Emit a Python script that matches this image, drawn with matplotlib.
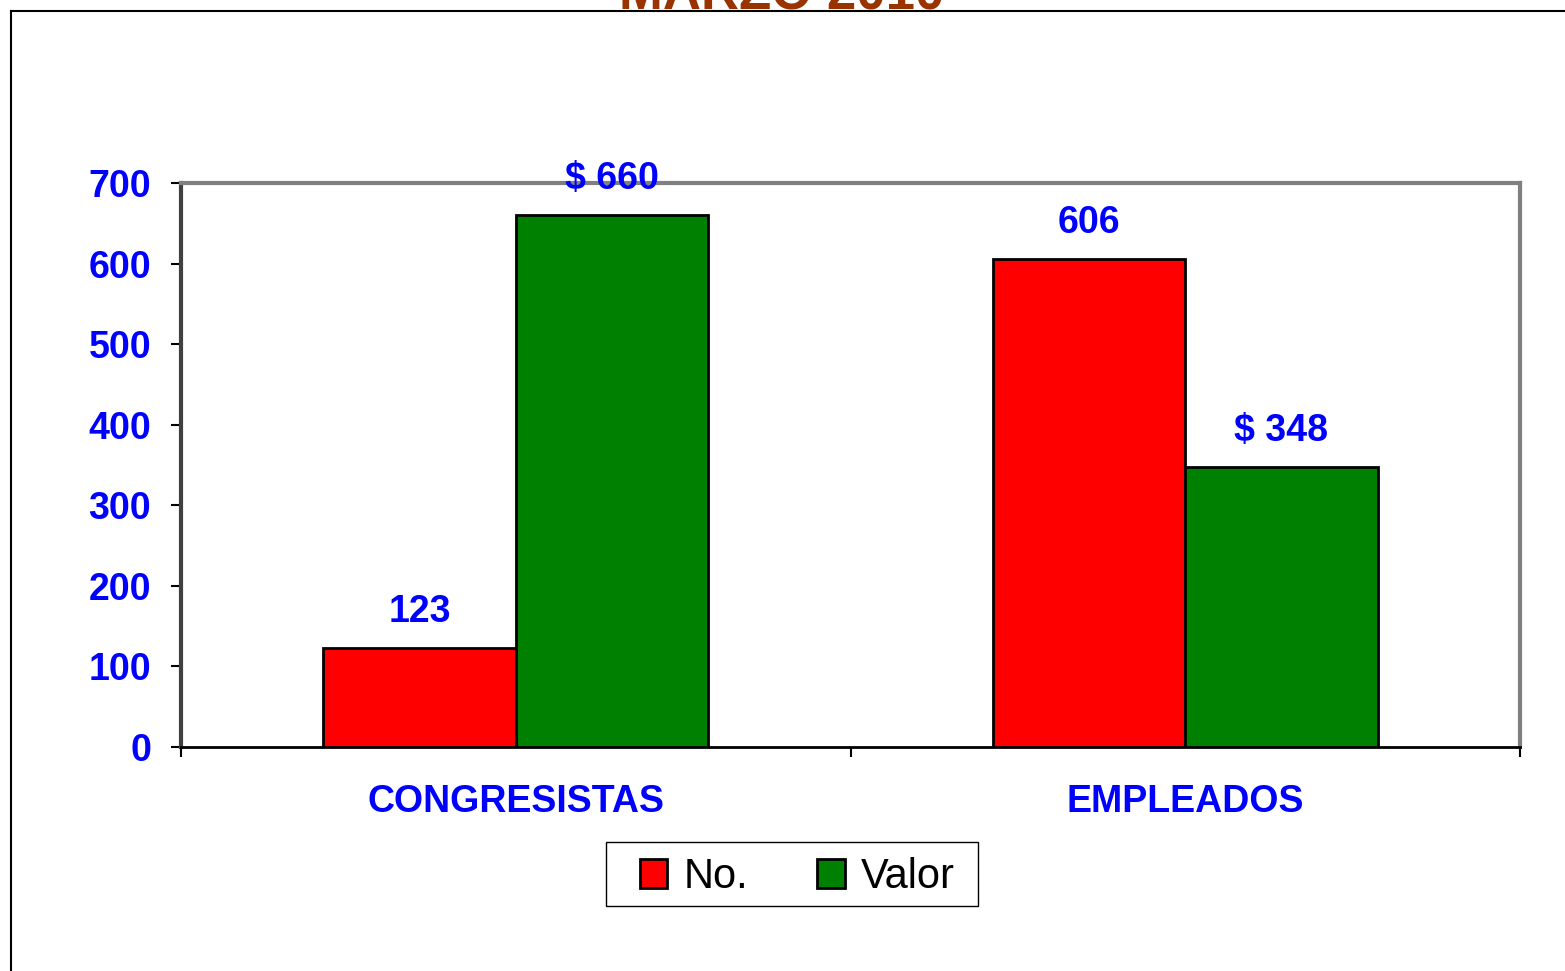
import numpy as np
import matplotlib.pyplot as plt
from matplotlib.patches import Rectangle
from matplotlib.lines import Line2D

plt.rcParams['font.family'] = ['Liberation Sans', 'DejaVu Sans']

# data
categories = ['CONGRESISTAS', 'EMPLEADOS']
series_names = ['No.', 'Valor']
no_values = [123, 606]
valor_values = [660, 348]
no_labels = ['123', '606']
valor_labels = ['$ 660', '$ 348']
yticks = [0, 100, 200, 300, 400, 500, 600, 700]

blue = '#0000FF'
W, H = 1565, 971

fig = plt.figure(figsize=(W/100, H/100), dpi=100)
ax = fig.add_axes([181/W, 1 - 747/H, (1520-181)/W, (747-183)/H])

x = np.arange(len(categories))
w = 0.2875
ax.bar(x - w/2, no_values, w, color='#FF0000', edgecolor='black', linewidth=2, label=series_names[0], zorder=3)
ax.bar(x + w/2, valor_values, w, color='#008000', edgecolor='black', linewidth=2, label=series_names[1], zorder=3)

for i in range(len(categories)):
    ax.text(x[i] - w/2, no_values[i] + 32, no_labels[i], ha='center', va='baseline',
            color=blue, fontsize=27, fontweight='bold', zorder=5, clip_on=False)
    ax.text(x[i] + w/2, valor_values[i] + 32, valor_labels[i], ha='center', va='baseline',
            color=blue, fontsize=27, fontweight='bold', zorder=5, clip_on=False)

ax.set_xlim(-0.5, 1.5)
ax.set_ylim(0, 700)
ax.set_yticks(yticks)
ax.set_yticklabels([str(v) for v in yticks], color=blue, fontsize=27, fontweight='bold')
ax.tick_params(axis='y', length=7.2, width=1.5, color='black', pad=14.4)

ax.set_xticks([-0.5, 0.5, 1.5], minor=False)
ax.set_xticklabels(['', '', ''])
ax.tick_params(axis='x', length=7.2, width=1.5, color='black')
ax.set_xticks(x, minor=True)
ax.set_xticklabels(categories, minor=True, color=blue, fontsize=27, fontweight='bold')
ax.tick_params(axis='x', which='minor', length=0, pad=26.5)

for s in ['top', 'right']:
    ax.spines[s].set_color('#808080')
    ax.spines[s].set_linewidth(3)
ax.spines['left'].set_color('#404040')
ax.spines['left'].set_linewidth(3)
ax.spines['bottom'].set_color('black')
ax.spines['bottom'].set_linewidth(2)

# legend (frame drawn by hand)
leg = fig.legend(loc='center', bbox_to_anchor=(797/W, 1 - 877/H), ncol=2, fontsize=30,
                 frameon=False, handlelength=0.67, handleheight=0.67,
                 columnspacing=1.65, handletextpad=0.38, borderpad=0.2)
for p in leg.get_patches():
    p.set_linewidth(2)
fig.add_artist(Rectangle((606/W, 1 - 906/H), (978-606)/W, (906-842)/H, fill=False,
                         edgecolor='black', linewidth=1, transform=fig.transFigure))

# title (cut off at the top)
fig.text(782/W, 1 - 10/H, 'MARZO 2010', ha='center', va='baseline', color='#993300',
         fontsize=38, fontweight='bold')

# outer border
fig.add_artist(Line2D([11/W, 1], [1 - 11/H, 1 - 11/H], color='black', linewidth=1.5,
                      transform=fig.transFigure))
fig.add_artist(Line2D([11/W, 11/W], [0, 1 - 11/H], color='black', linewidth=1.5,
                      transform=fig.transFigure))

fig.savefig('out.png', dpi=100)
